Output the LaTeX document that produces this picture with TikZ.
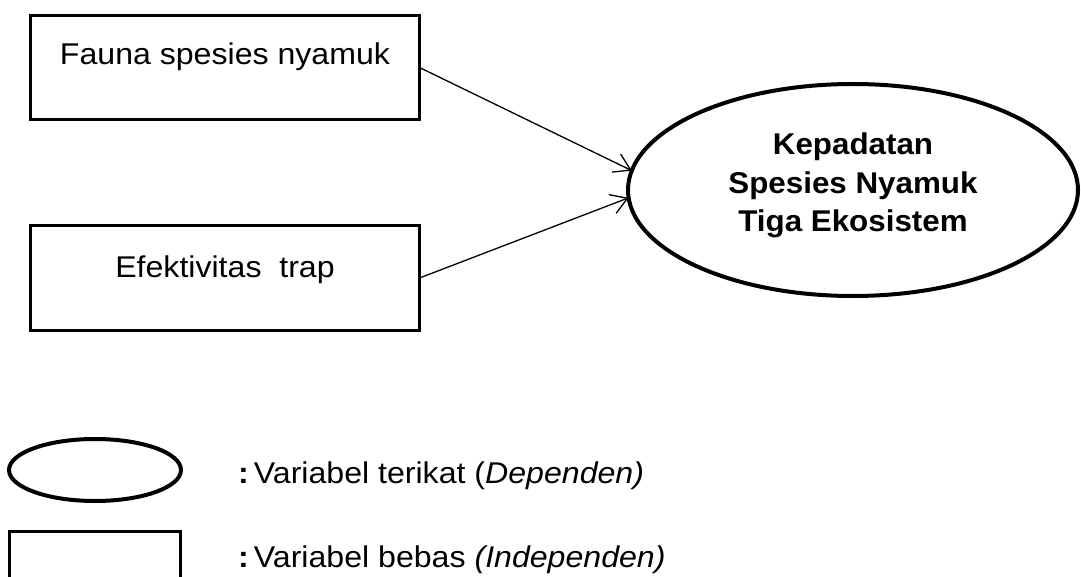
\documentclass[tikz,border=0pt]{standalone}
\usepackage{fontspec}
\setmainfont{Liberation Sans}[FakeStretch=1.07]
\newfontfamily\boldfam{Liberation Sans}[FakeStretch=1.045]
\usetikzlibrary{shapes.geometric,arrows.meta}
\begin{document}
\begin{tikzpicture}[x=1pt,y=-1pt,
  varbox/.style={draw,line width=3pt,rectangle,minimum width=389pt,minimum height=104pt,inner sep=0pt,outer sep=0pt},
  varell/.style={draw,line width=4pt,ellipse,inner sep=0pt,outer sep=0pt},
  boxtext/.style={font=\fontsize{30}{36}\selectfont,anchor=base,inner sep=0pt},
  legtext/.style={font=\fontsize{30}{36}\selectfont,anchor=base west,inner sep=0pt},
  arr/.style={line width=1.3pt,-{Straight Barb[length=16pt,width=20pt,line width=1.3pt]}}]
\useasboundingbox (0,0) rectangle (1081,577);
\clip (0,0) rectangle (1081,577);
% variable boxes
\node[varbox] (b1) at (225,67.5) {};
\node[boxtext] (t1) at (225,65) {Fauna spesies nyamuk};
\node[varbox] (b2) at (225,278) {};
\node[boxtext] (t2) at (225,277.5) {Efektivitas\ \ trap};
% dependent variable
\node[varell,minimum width=450pt,minimum height=212pt] (e) at (853,190) {};
\node[font=\boldfam\bfseries\fontsize{30}{38.5}\selectfont,align=center,inner sep=0pt] (et) at (853,185.5)
  {Kepadatan\\Spesies Nyamuk\\Tiga Ekosistem};
% connectors
\draw[arr] (b1.east) -- (e.175.4);
\draw[arr] (b2.east) -- (e.182.8);
% legend
\node[varell,minimum width=172pt,minimum height=62pt] (le) at (95,470) {};
\node[draw,line width=3pt,rectangle,minimum width=171pt,minimum height=80pt,inner sep=0pt,outer sep=0pt] (lr) at (95,571.5) {};
\node[legtext] (l1) at (238,483.5) {\textbf{:}\hspace{5pt}Variabel terikat (\textit{Dependen)}};
\node[legtext] (l2) at (238,567.5) {\textbf{:}\hspace{5pt}Variabel bebas \textit{(Independen)}};
\end{tikzpicture}
\end{document}
